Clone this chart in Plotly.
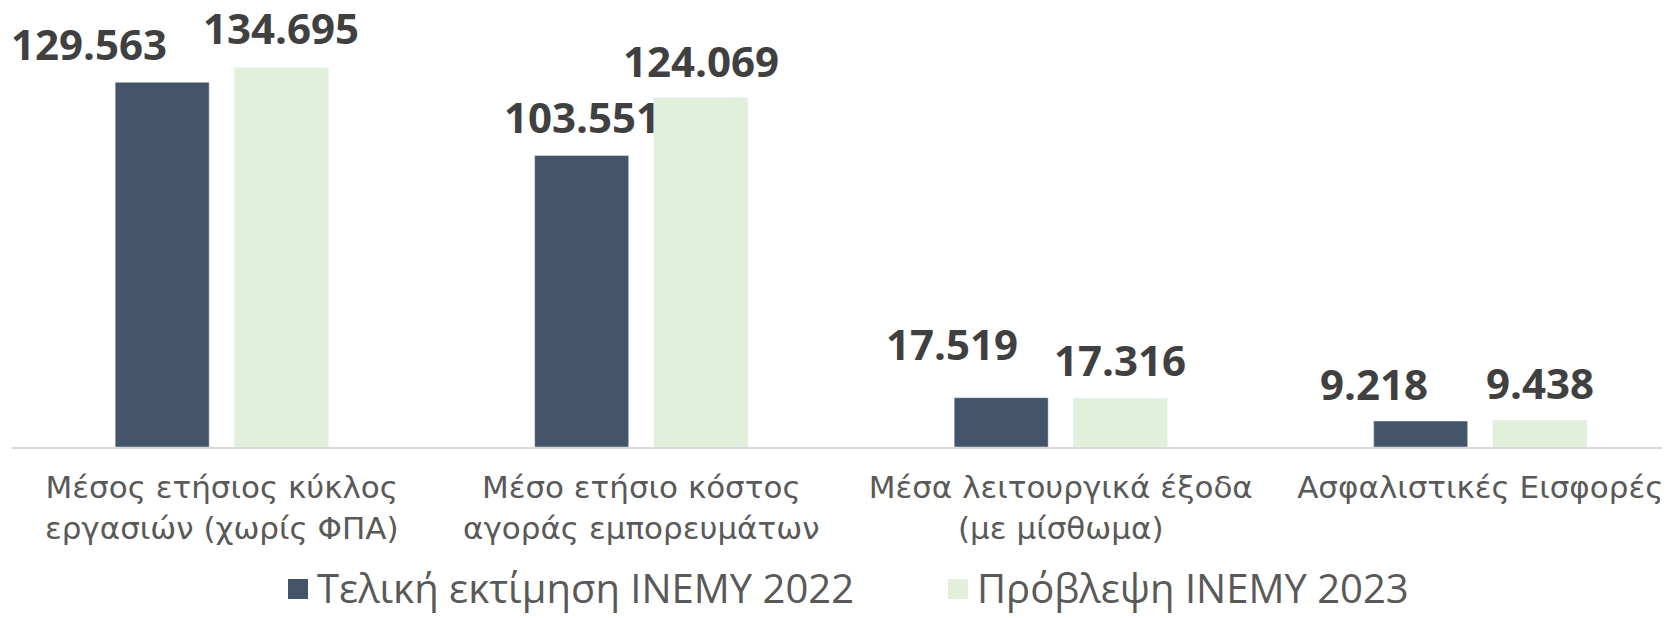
import plotly.graph_objects as go

categories = [
    "Μέσος ετήσιος κύκλος<br>εργασιών (χωρίς ΦΠΑ)",
    "Μέσο ετήσιο κόστος<br>αγοράς εμπορευμάτων",
    "Μέσα λειτουργικά έξοδα<br>(με μίσθωμα)",
    "Ασφαλιστικές Εισφορές",
]
series_names = ["Τελική εκτίμηση ΙΝΕΜΥ 2022", "Πρόβλεψη ΙΝΕΜΥ 2023"]
values_2022 = [129.563, 103.551, 17.519, 9.218]
values_2023 = [134.695, 124.069, 17.316, 9.438]
label_2022 = ["129.563", "103.551", "17.519", "9.218"]
label_2023 = ["134.695", "124.069", "17.316", "9.438"]

# style
DARK = "#44546A"
LIGHT = "#E2EFDA"
NUM_COLOR = "#404040"
TXT_COLOR = "#595959"
BARGAP = 0.432
BARGROUPGAP = 0.211
label_xshift_2022 = [-73, 0, -49, -47]
label_xshift_2023 = [0, 0, 0, 0]
label_yshift_2022 = [8, 9, 24, 7]
label_yshift_2023 = [10, 7, 8, 7]

BODY = 8  # default page body margin
W, H = 1670 - BODY, 618 - BODY
ML, MR, MT, MB = 12 - BODY, 0, 10 - BODY, 171
plot_h = H - MT - MB
plot_w = W - ML - MR
px_per_unit = 2.815
ymax = plot_h / px_per_unit
unit_px = 419.5
xmax = -0.5 + plot_w / unit_px

fig = go.Figure()
idx = list(range(len(categories)))
fig.add_trace(go.Bar(x=idx, y=values_2022, name=series_names[0], marker_color=DARK,
                     showlegend=False, hoverinfo="skip"))
fig.add_trace(go.Bar(x=idx, y=values_2023, name=series_names[1], marker_color=LIGHT,
                     showlegend=False, hoverinfo="skip"))

off = (1 - BARGAP) / 4
num_font = dict(family="Open Sans, DejaVu Sans, sans-serif", size=42, color=NUM_COLOR, weight="bold")
for i in idx:
    fig.add_annotation(x=i - off, y=values_2022[i], xref="x", yref="y", text=label_2022[i],
                       showarrow=False, yanchor="bottom", xanchor="center",
                       xshift=label_xshift_2022[i], yshift=label_yshift_2022[i], font=num_font)
    fig.add_annotation(x=i + off, y=values_2023[i], xref="x", yref="y", text=label_2023[i],
                       showarrow=False, yanchor="bottom", xanchor="center",
                       xshift=label_xshift_2023[i], yshift=label_yshift_2023[i], font=num_font)

# manual legend (positions given in page pixels)
def px_to_paper_x(px):
    return (px - BODY - ML) / plot_w

def px_to_paper_y(py):
    return (H - MB - (py - BODY)) / plot_h

leg_font = dict(family="Open Sans, DejaVu Sans, sans-serif", size=40, color=TXT_COLOR)
legend_items = [(288, DARK, series_names[0]), (948, LIGHT, series_names[1])]
for sx, col, name in legend_items:
    fig.add_shape(type="rect", xref="paper", yref="paper",
                  x0=px_to_paper_x(sx), x1=px_to_paper_x(sx + 20),
                  y0=px_to_paper_y(599), y1=px_to_paper_y(579),
                  fillcolor=col, line_width=0)
    fig.add_annotation(x=px_to_paper_x(sx + 27), y=px_to_paper_y(587), xref="paper", yref="paper",
                       text=name, showarrow=False, xanchor="left", yanchor="middle", font=leg_font)

fig.update_layout(
    width=W, height=H,
    margin=dict(l=ML, r=MR, t=MT, b=MB, pad=0),
    plot_bgcolor="white", paper_bgcolor="white",
    barmode="group", bargap=BARGAP, bargroupgap=BARGROUPGAP,
    showlegend=False,
    xaxis=dict(
        type="linear", range=[-0.5, xmax], tickmode="array", tickvals=idx, ticktext=categories,
        showline=True, linecolor="#D9D9D9", linewidth=2, showgrid=False, zeroline=False,
        ticks="", ticklabelstandoff=12,
        tickfont=dict(family="DejaVu Sans, Open Sans, sans-serif", size=31, color=TXT_COLOR),
    ),
    yaxis=dict(range=[0, ymax], visible=False, showgrid=False, zeroline=False),
)

fig.write_html("out.html")
